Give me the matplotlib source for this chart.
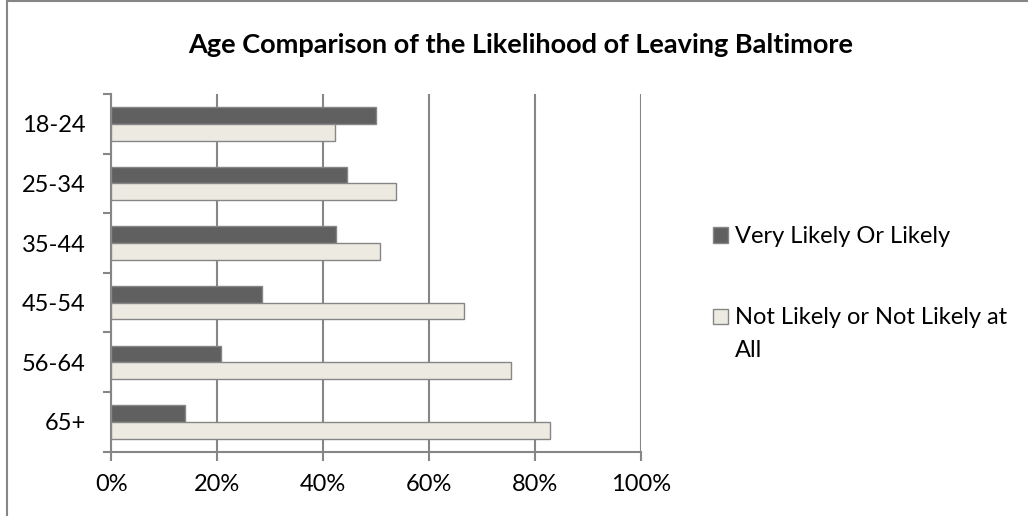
import numpy as np
import matplotlib
matplotlib.use("Agg")
import matplotlib.pyplot as plt
from matplotlib.patches import Rectangle
from matplotlib.ticker import FixedLocator, PercentFormatter

plt.rcParams['font.family'] = ['Lato', 'DejaVu Sans']

age_groups = ['18-24', '25-34', '35-44', '45-54', '56-64', '65+']
likely = [50.0, 44.5, 42.5, 28.5, 20.8, 14.0]
not_likely = [42.3, 53.8, 50.8, 66.7, 75.5, 82.8]
series_names = ['Very Likely Or Likely', 'Not Likely or Not Likely at\nAll']

grey = '#868686'
dark = '#606060'
light = '#EDEBE1'

fig = plt.figure(figsize=(10.28, 5.16), dpi=100)
ax = fig.add_axes([0.1083, 0.1246, 0.5150, 0.6932])

# categories run top to bottom
pos = np.arange(len(age_groups))[::-1] + 0.5
h = 0.28
ax.barh(pos + h / 2, likely, height=h, color=dark, edgecolor=grey,
        linewidth=1, zorder=3)
ax.barh(pos - h / 2, not_likely, height=h, color=light, edgecolor=grey,
        linewidth=1, zorder=3)

ax.set_xlim(0, 100)
ax.set_ylim(0, len(age_groups))
ax.set_xticks(np.arange(0, 101, 20))
ax.xaxis.set_major_formatter(PercentFormatter(decimals=0))
ax.grid(axis='x', color=grey, linewidth=1.5, zorder=0)

# group dividers as major ticks, names on minor ticks
ax.yaxis.set_major_locator(FixedLocator(np.arange(0, len(age_groups) + 1)))
ax.yaxis.set_minor_locator(FixedLocator(pos))
ax.set_yticklabels([], minor=False)
ax.set_yticklabels(age_groups, minor=True)
ax.tick_params(axis='y', which='major', length=6, color=grey, width=1.5)
ax.tick_params(axis='y', which='minor', length=0, pad=18.5, labelsize=17)
ax.tick_params(axis='x', length=6.5, color=grey, width=1.5, pad=9.5, labelsize=17)

for side in ['top', 'right']:
    ax.spines[side].set_visible(False)
for side in ['left', 'bottom']:
    ax.spines[side].set_color(grey)
    ax.spines[side].set_linewidth(1.5)

fig.text(0.506, 0.913, 'Age Comparison of the Likelihood of Leaving Baltimore',
         ha='center', va='center', fontsize=19.5, fontweight='bold')

# legend: swatch + wrapped label
sw = 15 / 1028
sh = 15 / 516
for (y, colour, name) in [(235, dark, series_names[0]), (316, light, series_names[1])]:
    fy = 1 - y / 516
    fig.patches.append(Rectangle((713 / 1028, fy - sh / 2), sw, sh,
                                 transform=fig.transFigure, facecolor=colour,
                                 edgecolor=grey, linewidth=1))
    fig.text(735 / 1028, fy + 0.018, name, ha='left', va='top',
             fontsize=17, linespacing=1.7)

# chart border (only left and top fall inside the image)
fig.patches.append(Rectangle((7 / 1028, -0.05), 1.2, 1 - 1.5 / 516 + 0.05,
                             transform=fig.transFigure, fill=False,
                             edgecolor=grey, linewidth=1.5))

fig.savefig('out.png', dpi=100)
